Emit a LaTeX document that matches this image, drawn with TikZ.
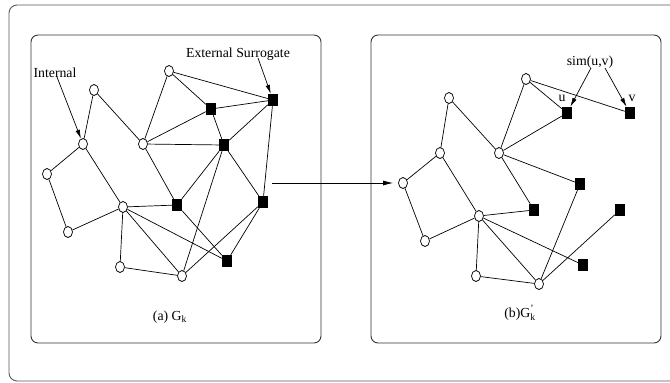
\documentclass[tikz,border=0pt]{standalone}
\usepackage{amsmath}
\usepackage{fontspec}
\setmainfont{Liberation Serif}
\usetikzlibrary{shapes.geometric,arrows.meta,calc}
\begin{document}
\begin{tikzpicture}[x=1pt,y=-1pt,
  circ/.style={ellipse, draw, fill=white, minimum width=9pt, minimum height=11pt, inner sep=0pt, line width=0.7pt},
  sqr/.style={rectangle, fill=black, minimum width=10pt, minimum height=12pt, inner sep=0pt},
  edge/.style={line width=0.7pt},
  lbl/.style={font=\fontsize{13.8}{15}\selectfont, inner sep=0pt, anchor=base},
  ann/.style={line width=0.7pt, -{Latex[length=9pt,width=4.5pt]}},
  panel/.style={draw=black!80, line width=0.9pt, rounded corners=7pt}]
\useasboundingbox (0,0) rectangle (670,383);
% outer frame
\draw[black!65, line width=0.9pt, rounded corners=8pt] (670,5) -- (9,5) -- (9,381) -- (670,381);
% panels
\draw[panel] (31,35) rectangle (321,343);
\draw[panel] (371,35) rectangle (661,343);

% left graph nodes
\node[circ] (a1) at (169,71) {};
\node[circ] (a2) at (94,90) {};
\node[circ] (a3) at (83,144) {};
\node[circ] (a4) at (47,174) {};
\node[circ] (a5) at (143,144) {};
\node[circ] (a6) at (123,207) {};
\node[circ] (a7) at (68,232) {};
\node[circ] (a8) at (120,267) {};
\node[circ] (a9) at (182,276) {};
\node[sqr] (s1) at (211,109) {};
\node[sqr] (s2) at (273,100) {};
\node[sqr] (s3) at (224,145) {};
\node[sqr] (s4) at (263,202) {};
\node[sqr] (s5) at (177,205) {};
\node[sqr] (s6) at (227,261) {};

\foreach \p/\q in {a1/s2,a1/s1,a1/a5,a2/a3,a2/a5,a3/a4,a3/a6,a4/a7,a7/a6,a5/s1,a5/s3,a5/s5,
  s1/s2,s1/s3,s2/s3,s2/s4,s3/s5,s3/s4,s3/a9,s5/a6,s5/s6,s4/s6,s4/a9,a6/s6,a6/a9,a6/a8,a8/a9}
  \draw[edge] (\p) -- (\q);

% right graph nodes
\node[circ] (b1) at (526,79) {};
\node[circ] (b2) at (449,98) {};
\node[circ] (b3) at (440,153) {};
\node[circ] (b4) at (403,183) {};
\node[circ] (b5) at (499,153) {};
\node[circ] (b6) at (479,216) {};
\node[circ] (b7) at (425,241) {};
\node[circ] (b8) at (476,276) {};
\node[circ] (b9) at (539,284) {};
\node[sqr] (u) at (567,113) {};
\node[sqr] (v) at (630,113) {};
\node[sqr] (t1) at (580,184) {};
\node[sqr] (t2) at (534,210) {};
\node[sqr] (t3) at (620,210) {};
\node[sqr] (t4) at (583,265) {};

\foreach \p/\q in {b1/v,b1/u,b1/b5,b2/b5,b2/b3,b3/b4,b3/b6,b4/b7,b7/b6,b5/u,b5/t1,b5/t2,
  t1/b9,b6/t2,b6/t4,b6/b9,b6/b8,b8/b9,b9/t3}
  \draw[edge] (\p) -- (\q);

% labels
\node[lbl] (lI) at (55,77) {Internal};
\node[lbl] (lE) at (238,57) {External Surrogate};
\node[lbl] (lS) at (590,65) {sim(u,v)};
\node[lbl] (lu) at (562,101) {u};
\node[lbl] (lv) at (632,101) {v};
\node[lbl] (la) at (170,320) {(a) G$_{\textrm{k}}$};
\node[lbl] (lb) at (520,317) {(b)G$^{\textrm{'}}_{\textrm{k}}$};

% annotation arrows
\draw[ann] ($(lI.base)+(2,0)$) -- (a3);
\draw[ann] ($(lE.base)+(20,1)$) -- (s2);
\draw[ann] ($(lS.base)+(1,3)$) -- (u);
\draw[ann] ($(lS.base)+(15,3)$) -- (v);

% main arrow
\coordinate (m0) at (272,183);
\draw[line width=0.8pt, -{Latex[length=10pt,width=5pt]}] (m0) -- ([xshift=-5pt]b4.west);
\end{tikzpicture}
\end{document}
